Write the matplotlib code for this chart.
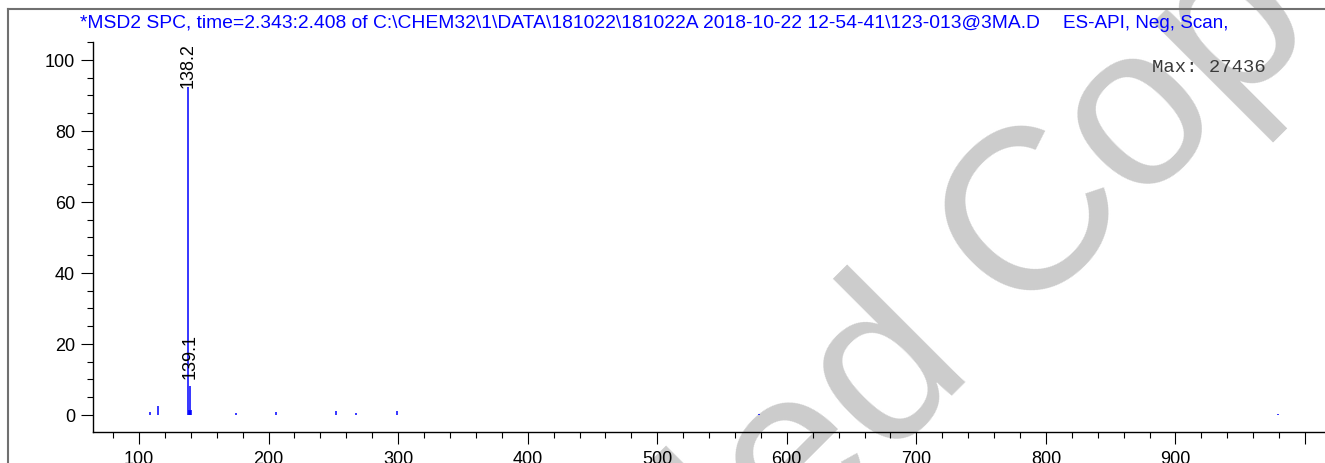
import matplotlib
matplotlib.use('Agg')
from matplotlib import pyplot as plt
from matplotlib.lines import Line2D
from matplotlib.ticker import MultipleLocator
import matplotlib.transforms as mtransforms

plt.rcParams['font.family'] = ['Liberation Sans', 'DejaVu Sans']

# spectrum: m/z and relative abundance (%)
mz = [108.7, 114.4, 138.2, 138.9, 139.1, 139.3, 140.0, 174.9, 206.0, 252.2, 267.8, 299.1, 578.8, 979.0]
abundance = [0.8, 2.6, 100.0, 1.5, 8.1, 1.0, 1.3, 0.5, 0.9, 1.2, 0.5, 1.2, 0.4, 0.3]

label_mz = [138.2, 139.1]
label_y = [None, 10.3]  # None -> pinned to top of plot

title_main = r'*MSD2 SPC, time=2.343:2.408 of C:\CHEM32\1\DATA\181022\181022A 2018-10-22 12-54-41\123-013@3MA.D'
title_mode = 'ES-API, Neg, Scan,'
max_text = 'Max: 27436'

W, H = 1325, 464
fig = plt.figure(figsize=(W / 100, H / 100), dpi=100)


def fx(px):
    return px / W


def fy(py):
    return 1 - py / H


# watermark sits behind everything
wm = dict(rotation=45, rotation_mode='anchor', va='baseline', fontsize=166,
          color='#cccccc', zorder=-10)
fig.text(fx(973.4), fy(363.2), 'Controlled', ha='right', **wm)
fig.text(fx(1017.6), fy(319), 'Copy', ha='left', **wm)

# outer frame (left and top edges only)
fig.add_artist(Line2D([fx(8), fx(8)], [fy(10), 0], color='#707070', lw=1.5))
fig.add_artist(Line2D([fx(8), 1], [fy(10), fy(10)], color='#707070', lw=1.5))

ax = fig.add_axes([fx(93), fy(433), 1 - fx(93), fy(43) - fy(433)])
ax.patch.set_visible(False)

ax.vlines(mz, 0, abundance, color='#0000ff', lw=1.1, zorder=2)

ax.set_xlim(64.5, 1015.4)
ax.set_ylim(-4.79, 105.05)

for spine in ['top', 'right']:
    ax.spines[spine].set_visible(False)
for spine in ['left', 'bottom']:
    ax.spines[spine].set_linewidth(1.0)

ax.xaxis.set_major_locator(MultipleLocator(100))
ax.xaxis.set_minor_locator(MultipleLocator(20))
ax.yaxis.set_major_locator(MultipleLocator(20))
ax.yaxis.set_minor_locator(MultipleLocator(5))
ax.tick_params(which='major', length=8.5, width=0.8, labelsize=13, pad=4.5)
ax.tick_params(which='minor', length=4.5, width=0.8)
ax.set_xticks(range(100, 1001, 100))
ax.set_xticklabels([str(v) for v in range(100, 1000, 100)] + [''])

# axis unit written in place of the last tick label
trans = mtransforms.blended_transform_factory(ax.transData, ax.transAxes)
ax.text(997.7, -0.095, 'm/z', transform=trans, ha='left', va='top', fontsize=13, clip_on=False)

# peak labels
for m, y in zip(label_mz, label_y):
    if y is None:
        ax.text(m, 105.0, str(m), rotation=90, ha='center', va='top', fontsize=13, zorder=3,
                bbox=dict(facecolor='white', edgecolor='none', pad=0))
    else:
        ax.text(m, y, str(m), rotation=90, ha='center', va='bottom', fontsize=13, zorder=3)

fig.text(fx(80), fy(27.5), title_main, ha='left', va='baseline', fontsize=13.9, color='#0000ff')
fig.text(fx(1063), fy(27.5), title_mode, ha='left', va='baseline', fontsize=13.6, color='#0000ff')
fig.text(fx(1152), fy(72), max_text, ha='left', va='baseline', fontsize=13.6,
         family='Liberation Mono', color='#3a3a3a')

fig.savefig('out.png', dpi=100)
